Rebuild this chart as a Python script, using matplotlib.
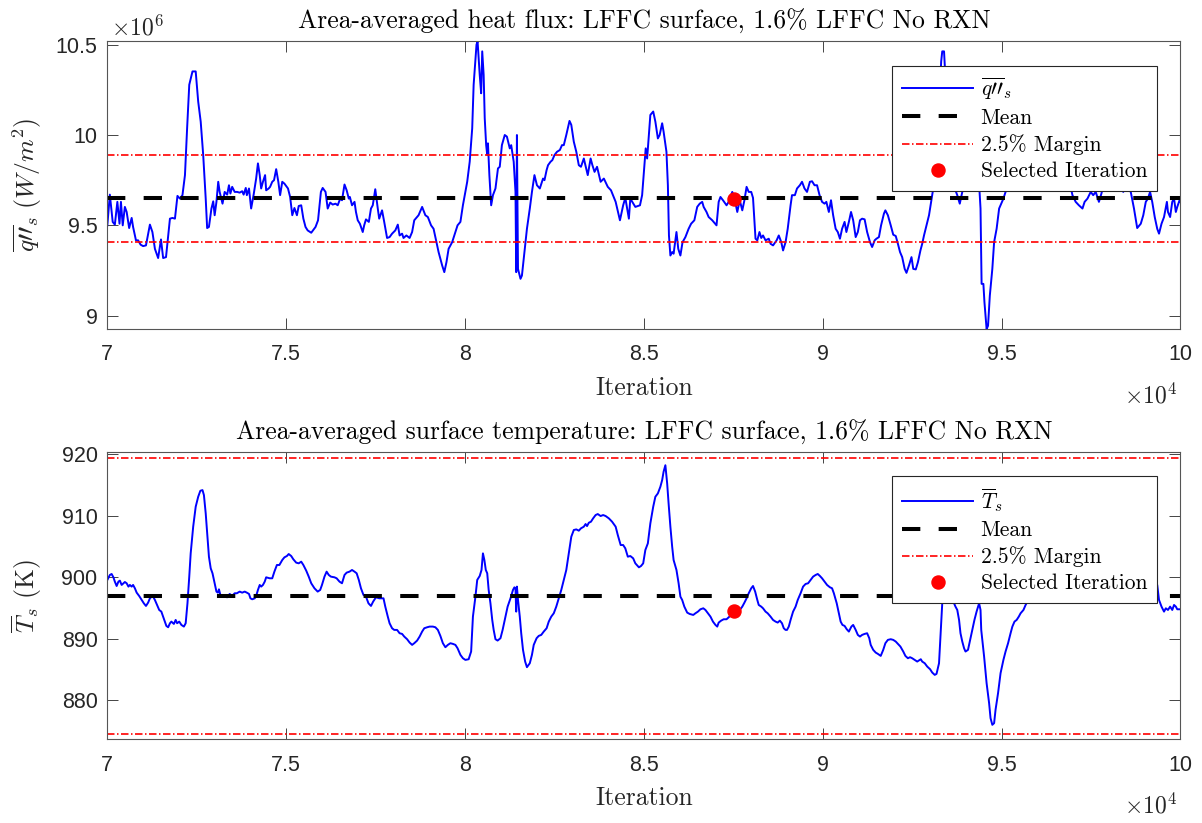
import matplotlib
matplotlib.use('Agg')
import matplotlib.pyplot as plt
from matplotlib.ticker import FuncFormatter, MultipleLocator
import numpy as np

plt.rcParams['mathtext.fontset'] = 'cm'
plt.rcParams['font.family'] = 'Liberation Sans'
SERIF = 'cmr10'
INK = '#262626'

# heat flux trace, iteration in units of 1e4, flux in units of 1e6 W/m^2
q_iter = np.array([
    7.000, 7.007, 7.015, 7.021, 7.028, 7.034, 7.038, 7.043, 7.049, 7.054, 7.061, 7.068,
    7.072, 7.080, 7.086, 7.093, 7.100, 7.108, 7.119, 7.126, 7.133, 7.142, 7.150, 7.156,
    7.164, 7.175, 7.182, 7.189, 7.196, 7.203, 7.210, 7.217, 7.223, 7.229, 7.238, 7.247,
    7.254, 7.261, 7.268, 7.275, 7.279, 7.284, 7.291, 7.296, 7.300, 7.305, 7.310, 7.314,
    7.322, 7.328, 7.335, 7.340, 7.344, 7.349, 7.356, 7.363, 7.370, 7.377, 7.381, 7.387,
    7.390, 7.396, 7.402, 7.409, 7.416, 7.421, 7.426, 7.430, 7.435, 7.441, 7.444, 7.451,
    7.455, 7.461, 7.466, 7.472, 7.478, 7.483, 7.489, 7.495, 7.505, 7.511, 7.517, 7.523,
    7.530, 7.535, 7.542, 7.548, 7.554, 7.560, 7.570, 7.582, 7.589, 7.597, 7.602, 7.610,
    7.616, 7.623, 7.630, 7.638, 7.644, 7.651, 7.656, 7.663, 7.669, 7.675, 7.678, 7.684,
    7.691, 7.695, 7.700, 7.706, 7.714, 7.718, 7.723, 7.731, 7.737, 7.742, 7.749, 7.756,
    7.760, 7.768, 7.774, 7.782, 7.789, 7.796, 7.805, 7.812, 7.817, 7.824, 7.828, 7.836,
    7.845, 7.852, 7.858, 7.870, 7.880, 7.889, 7.896, 7.905, 7.912, 7.920, 7.926, 7.936,
    7.942, 7.948, 7.954, 7.964, 7.970, 7.979, 7.987, 7.994, 8.006, 8.013, 8.020, 8.024,
    8.032, 8.035, 8.041, 8.045, 8.048, 8.052, 8.055, 8.059, 8.062, 8.064, 8.068, 8.073,
    8.078, 8.085, 8.092, 8.097, 8.103, 8.111, 8.117, 8.125, 8.129, 8.136, 8.141, 8.143,
    8.145, 8.148, 8.155, 8.159, 8.166, 8.173, 8.181, 8.187, 8.194, 8.201, 8.209, 8.218,
    8.222, 8.228, 8.232, 8.239, 8.244, 8.250, 8.257, 8.265, 8.271, 8.276, 8.283, 8.292,
    8.297, 8.304, 8.311, 8.318, 8.324, 8.332, 8.343, 8.351, 8.356, 8.362, 8.369, 8.379,
    8.388, 8.399, 8.408, 8.421, 8.433, 8.442, 8.448, 8.458, 8.462, 8.476, 8.489, 8.495,
    8.502, 8.505, 8.509, 8.518, 8.526, 8.532, 8.539, 8.544, 8.551, 8.555, 8.563, 8.567,
    8.570, 8.574, 8.579, 8.583, 8.591, 8.596, 8.602, 8.608, 8.616, 8.625, 8.632, 8.641,
    8.649, 8.656, 8.663, 8.667, 8.675, 8.681, 8.691, 8.703, 8.709, 8.714, 8.721, 8.731,
    8.737, 8.747, 8.753, 8.761, 8.768, 8.775, 8.781, 8.787, 8.793, 8.800, 8.805, 8.812,
    8.817, 8.823, 8.828, 8.833, 8.840, 8.849, 8.854, 8.861, 8.871, 8.877, 8.884, 8.889,
    8.896, 8.902, 8.910, 8.914, 8.922, 8.928, 8.936, 8.942, 8.949, 8.956, 8.964, 8.970,
    8.977, 8.984, 8.991, 8.998, 9.005, 9.010, 9.017, 9.023, 9.029, 9.036, 9.042, 9.048,
    9.054, 9.061, 9.066, 9.073, 9.079, 9.085, 9.092, 9.098, 9.104, 9.110, 9.117, 9.124,
    9.132, 9.138, 9.145, 9.150, 9.157, 9.163, 9.171, 9.175, 9.182, 9.190, 9.197, 9.204,
    9.210, 9.216, 9.222, 9.229, 9.234, 9.241, 9.248, 9.253, 9.260, 9.266, 9.273, 9.278,
    9.283, 9.290, 9.297, 9.303, 9.311, 9.320, 9.328, 9.331, 9.334, 9.339, 9.341, 9.348,
    9.355, 9.362, 9.369, 9.376, 9.383, 9.390, 9.397, 9.409, 9.423, 9.437, 9.441, 9.444,
    9.449, 9.452, 9.458, 9.462, 9.467, 9.474, 9.479, 9.486, 9.493, 9.497, 9.505, 9.511,
    9.518, 9.523, 9.553, 9.590, 9.637, 9.674, 9.691, 9.698, 9.707, 9.716, 9.726, 9.732,
    9.740, 9.749, 9.756, 9.763, 9.772, 9.779, 9.786, 9.810, 9.833, 9.840, 9.847, 9.861,
    9.870, 9.879, 9.889, 9.896, 9.903, 9.909, 9.915, 9.921, 9.928, 9.935, 9.940, 9.947,
    9.954, 9.962, 9.965, 9.971, 9.977, 9.982, 9.987, 9.991, 9.999, 10.000]) * 1e4
q_vals = np.array([
    9.500, 9.670, 9.519, 9.504, 9.630, 9.509, 9.630, 9.500, 9.602, 9.574, 9.485, 9.541,
    9.491, 9.417, 9.417, 9.393, 9.385, 9.389, 9.504, 9.463, 9.370, 9.319, 9.422, 9.319,
    9.324, 9.537, 9.541, 9.537, 9.663, 9.648, 9.667, 9.778, 10.037, 10.278, 10.352, 10.352,
    10.185, 10.074, 9.889, 9.648, 9.485, 9.491, 9.593, 9.633, 9.556, 9.630, 9.741, 9.685,
    9.620, 9.685, 9.670, 9.722, 9.676, 9.713, 9.685, 9.685, 9.681, 9.689, 9.670, 9.707,
    9.667, 9.704, 9.593, 9.670, 9.759, 9.843, 9.778, 9.704, 9.741, 9.778, 9.694, 9.704,
    9.713, 9.741, 9.750, 9.811, 9.741, 9.667, 9.741, 9.731, 9.704, 9.657, 9.556, 9.596,
    9.556, 9.607, 9.611, 9.537, 9.491, 9.472, 9.459, 9.491, 9.528, 9.685, 9.707, 9.685,
    9.593, 9.626, 9.615, 9.620, 9.611, 9.648, 9.639, 9.726, 9.694, 9.648, 9.657, 9.611,
    9.630, 9.574, 9.528, 9.509, 9.463, 9.500, 9.533, 9.519, 9.593, 9.611, 9.700, 9.593,
    9.537, 9.583, 9.519, 9.430, 9.435, 9.454, 9.472, 9.504, 9.444, 9.454, 9.430, 9.444,
    9.430, 9.463, 9.528, 9.556, 9.602, 9.556, 9.546, 9.500, 9.481, 9.407, 9.352, 9.278,
    9.241, 9.296, 9.370, 9.407, 9.444, 9.500, 9.519, 9.611, 9.741, 9.852, 10.037, 10.278,
    10.500, 10.519, 10.333, 10.231, 10.463, 10.333, 10.093, 9.944, 9.889, 9.954, 9.778, 9.611,
    9.667, 9.704, 9.815, 9.824, 9.944, 10.000, 9.991, 9.926, 9.944, 9.852, 9.685, 9.241,
    10.000, 9.259, 9.204, 9.222, 9.352, 9.481, 9.593, 9.685, 9.778, 9.722, 9.704, 9.759,
    9.750, 9.806, 9.833, 9.852, 9.861, 9.889, 9.907, 9.917, 9.944, 9.944, 10.000, 10.078,
    10.056, 9.963, 9.907, 9.833, 9.824, 9.870, 9.778, 9.870, 9.833, 9.796, 9.824, 9.741,
    9.759, 9.713, 9.694, 9.630, 9.528, 9.611, 9.652, 9.537, 9.648, 9.602, 9.611, 9.667,
    9.852, 9.926, 9.870, 10.111, 10.130, 10.074, 9.981, 10.000, 10.065, 10.019, 9.907, 9.722,
    9.444, 9.333, 9.352, 9.343, 9.463, 9.370, 9.333, 9.407, 9.435, 9.481, 9.509, 9.528,
    9.602, 9.620, 9.630, 9.602, 9.574, 9.546, 9.528, 9.500, 9.630, 9.657, 9.639, 9.611,
    9.630, 9.685, 9.652, 9.574, 9.639, 9.583, 9.639, 9.713, 9.685, 9.685, 9.652, 9.426,
    9.417, 9.463, 9.430, 9.444, 9.417, 9.426, 9.398, 9.389, 9.417, 9.444, 9.407, 9.361,
    9.407, 9.481, 9.611, 9.667, 9.667, 9.704, 9.722, 9.741, 9.704, 9.685, 9.741, 9.744,
    9.722, 9.722, 9.667, 9.630, 9.620, 9.630, 9.574, 9.639, 9.556, 9.481, 9.463, 9.426,
    9.481, 9.519, 9.463, 9.519, 9.574, 9.528, 9.435, 9.463, 9.528, 9.537, 9.533, 9.463,
    9.407, 9.380, 9.417, 9.426, 9.435, 9.500, 9.565, 9.583, 9.556, 9.500, 9.448, 9.441,
    9.398, 9.352, 9.324, 9.259, 9.237, 9.278, 9.324, 9.259, 9.256, 9.296, 9.361, 9.398,
    9.444, 9.500, 9.556, 9.630, 9.731, 10.000, 10.278, 10.407, 10.463, 10.463, 10.389, 10.093,
    9.852, 9.731, 9.704, 9.667, 9.620, 9.685, 9.731, 9.815, 9.778, 9.731, 9.593, 9.176,
    9.176, 9.074, 8.926, 8.944, 9.111, 9.259, 9.407, 9.481, 9.593, 9.611, 9.648, 9.685,
    9.704, 9.731, 9.852, 9.889, 9.815, 9.778, 9.731, 9.667, 9.630, 9.611, 9.593, 9.630,
    9.648, 9.685, 9.667, 9.685, 9.630, 9.676, 9.731, 9.815, 9.731, 9.685, 9.713, 9.685,
    9.593, 9.485, 9.509, 9.556, 9.630, 9.648, 9.685, 9.630, 9.546, 9.481, 9.454, 9.509,
    9.546, 9.630, 9.574, 9.546, 9.630, 9.648, 9.574, 9.602, 9.648, 9.630]) * 1e6

# surface temperature trace, iteration in units of 1e4, temperature in K
T_iter = np.array([
    7.000, 7.007, 7.012, 7.017, 7.021, 7.026, 7.031, 7.035, 7.040, 7.045, 7.049, 7.054,
    7.059, 7.063, 7.068, 7.072, 7.077, 7.082, 7.089, 7.096, 7.102, 7.108, 7.114, 7.119,
    7.124, 7.128, 7.133, 7.139, 7.145, 7.151, 7.156, 7.161, 7.165, 7.170, 7.175, 7.179,
    7.186, 7.191, 7.195, 7.201, 7.207, 7.214, 7.219, 7.224, 7.229, 7.233, 7.240, 7.247,
    7.254, 7.260, 7.266, 7.270, 7.275, 7.280, 7.284, 7.289, 7.294, 7.300, 7.305, 7.309,
    7.312, 7.316, 7.322, 7.328, 7.335, 7.342, 7.349, 7.356, 7.362, 7.370, 7.377, 7.384,
    7.390, 7.396, 7.400, 7.405, 7.412, 7.416, 7.421, 7.426, 7.430, 7.435, 7.440, 7.444,
    7.454, 7.461, 7.467, 7.474, 7.481, 7.489, 7.495, 7.502, 7.507, 7.514, 7.520, 7.528,
    7.535, 7.542, 7.548, 7.556, 7.563, 7.570, 7.579, 7.588, 7.595, 7.600, 7.607, 7.613,
    7.619, 7.625, 7.635, 7.641, 7.649, 7.656, 7.663, 7.669, 7.677, 7.684, 7.691, 7.697,
    7.703, 7.709, 7.716, 7.723, 7.730, 7.737, 7.743, 7.751, 7.760, 7.772, 7.777, 7.784,
    7.789, 7.796, 7.802, 7.810, 7.817, 7.824, 7.830, 7.838, 7.845, 7.852, 7.858, 7.866,
    7.873, 7.880, 7.886, 7.894, 7.901, 7.910, 7.917, 7.924, 7.931, 7.938, 7.945, 7.952,
    7.959, 7.966, 7.973, 7.979, 7.987, 7.994, 8.001, 8.010, 8.017, 8.022, 8.029, 8.034,
    8.041, 8.046, 8.050, 8.054, 8.058, 8.062, 8.066, 8.071, 8.076, 8.080, 8.085, 8.091,
    8.099, 8.105, 8.113, 8.119, 8.127, 8.134, 8.138, 8.141, 8.143, 8.145, 8.148, 8.153,
    8.157, 8.162, 8.168, 8.173, 8.181, 8.187, 8.192, 8.200, 8.206, 8.213, 8.220, 8.228,
    8.234, 8.241, 8.248, 8.255, 8.262, 8.269, 8.276, 8.283, 8.290, 8.297, 8.304, 8.311,
    8.318, 8.324, 8.332, 8.337, 8.341, 8.346, 8.352, 8.358, 8.365, 8.371, 8.379, 8.386,
    8.393, 8.402, 8.411, 8.421, 8.427, 8.435, 8.442, 8.448, 8.455, 8.462, 8.470, 8.476,
    8.486, 8.492, 8.498, 8.504, 8.511, 8.518, 8.526, 8.532, 8.539, 8.546, 8.551, 8.555,
    8.560, 8.565, 8.569, 8.574, 8.579, 8.583, 8.591, 8.597, 8.602, 8.607, 8.613, 8.621,
    8.628, 8.638, 8.644, 8.651, 8.658, 8.666, 8.672, 8.679, 8.686, 8.693, 8.700, 8.705,
    8.709, 8.716, 8.723, 8.731, 8.737, 8.744, 8.751, 8.760, 8.768, 8.775, 8.781, 8.787,
    8.793, 8.800, 8.805, 8.811, 8.817, 8.821, 8.828, 8.833, 8.840, 8.846, 8.854, 8.861,
    8.868, 8.874, 8.880, 8.886, 8.891, 8.896, 8.900, 8.905, 8.910, 8.917, 8.924, 8.930,
    8.938, 8.945, 8.952, 8.959, 8.966, 8.973, 8.980, 8.986, 8.992, 8.998, 9.005, 9.012,
    9.020, 9.026, 9.031, 9.039, 9.045, 9.050, 9.055, 9.061, 9.067, 9.073, 9.080, 9.085,
    9.092, 9.098, 9.104, 9.110, 9.117, 9.124, 9.130, 9.134, 9.141, 9.148, 9.154, 9.162,
    9.169, 9.175, 9.182, 9.190, 9.197, 9.204, 9.210, 9.217, 9.225, 9.231, 9.238, 9.244,
    9.250, 9.257, 9.264, 9.274, 9.278, 9.285, 9.292, 9.300, 9.306, 9.313, 9.318, 9.325,
    9.329, 9.334, 9.339, 9.346, 9.353, 9.362, 9.367, 9.371, 9.376, 9.381, 9.385, 9.390,
    9.395, 9.399, 9.406, 9.411, 9.418, 9.424, 9.430, 9.437, 9.441, 9.443, 9.451, 9.458,
    9.465, 9.469, 9.474, 9.479, 9.483, 9.490, 9.497, 9.505, 9.511, 9.518, 9.525, 9.530,
    9.536, 9.542, 9.548, 9.553, 9.561, 9.567, 9.572, 9.576, 9.581, 9.618, 9.665, 9.712,
    9.758, 9.805, 9.852, 9.898, 9.935, 9.940, 9.947, 9.954, 9.959, 9.965, 9.971, 9.977,
    9.982, 9.987, 9.991, 9.999, 10.000]) * 1e4
T_vals = np.array([
    899.57, 900.38, 900.54, 900.00, 899.30, 898.59, 899.30, 899.46, 898.76, 899.03, 899.24, 899.03,
    898.49, 898.76, 898.49, 898.76, 898.22, 897.51, 896.97, 896.32, 895.78, 895.35, 895.89, 896.59,
    896.86, 896.86, 896.32, 895.51, 894.70, 894.43, 893.62, 892.81, 892.11, 891.89, 892.54, 892.81,
    892.43, 893.08, 892.54, 892.81, 892.27, 892.00, 892.54, 895.78, 900.11, 903.89, 908.22, 911.46,
    913.08, 914.05, 914.16, 913.35, 910.38, 906.59, 903.35, 901.46, 900.65, 899.03, 897.68, 897.51,
    898.05, 897.14, 896.97, 896.86, 896.76, 897.30, 896.97, 897.41, 897.41, 897.68, 897.51, 897.68,
    897.51, 897.30, 896.59, 896.43, 896.59, 896.97, 897.95, 898.76, 898.49, 898.76, 899.30, 900.00,
    899.84, 899.84, 900.92, 902.00, 902.00, 902.81, 903.24, 903.46, 903.78, 903.46, 902.92, 902.38,
    902.27, 902.54, 902.00, 901.08, 900.11, 899.03, 898.22, 897.68, 897.95, 898.76, 900.11, 900.92,
    900.38, 900.11, 900.00, 899.84, 899.30, 899.03, 900.38, 900.76, 900.92, 901.19, 900.92, 900.65,
    899.57, 898.22, 897.14, 896.86, 895.78, 895.35, 896.05, 896.76, 896.59, 896.59, 895.24, 893.62,
    892.54, 891.73, 891.46, 891.46, 890.92, 890.81, 890.38, 889.95, 889.41, 889.03, 889.30, 889.73,
    890.38, 891.19, 891.73, 891.89, 892.00, 892.00, 891.89, 891.46, 890.49, 889.30, 888.65, 889.03,
    889.30, 889.19, 889.03, 888.49, 887.41, 886.86, 886.59, 886.70, 887.95, 893.62, 896.86, 899.57,
    900.22, 901.19, 903.89, 902.81, 901.19, 900.65, 897.95, 895.78, 893.08, 891.46, 889.95, 889.73,
    890.11, 891.46, 893.62, 895.24, 896.59, 897.95, 898.38, 898.22, 894.43, 898.49, 896.32, 893.62,
    890.92, 888.22, 886.32, 885.41, 886.05, 887.41, 889.03, 890.11, 890.49, 890.65, 891.19, 891.73,
    892.81, 893.62, 894.16, 895.24, 896.59, 897.95, 899.57, 901.19, 903.89, 906.59, 907.68, 907.78,
    907.57, 907.95, 908.22, 908.65, 908.32, 908.86, 909.03, 909.57, 910.11, 910.27, 909.95, 910.11,
    909.95, 909.57, 909.03, 908.22, 906.86, 905.24, 905.24, 904.70, 903.35, 903.46, 903.08, 902.27,
    901.62, 901.84, 902.27, 904.43, 905.51, 908.76, 911.46, 913.08, 913.62, 914.70, 915.78, 917.14,
    918.20, 915.24, 912.00, 908.22, 904.97, 902.81, 901.19, 899.03, 896.86, 896.32, 895.24, 894.27,
    894.05, 893.89, 894.16, 894.43, 894.81, 894.97, 894.70, 894.16, 893.62, 892.81, 892.27, 892.00,
    892.65, 892.97, 893.19, 893.19, 893.51, 893.89, 894.43, 894.43, 894.70, 895.24, 895.89, 896.59,
    897.41, 898.22, 898.59, 897.68, 896.32, 895.51, 895.24, 894.97, 894.43, 894.16, 893.62, 893.08,
    892.81, 892.65, 892.97, 892.54, 891.73, 891.46, 891.46, 892.00, 893.08, 894.43, 895.24, 896.32,
    897.41, 898.49, 898.92, 899.03, 899.57, 900.11, 900.38, 900.54, 900.22, 899.84, 899.30, 898.76,
    898.38, 898.22, 897.41, 895.78, 894.16, 892.81, 892.27, 892.11, 891.57, 891.19, 892.00, 892.27,
    891.46, 890.65, 890.38, 890.65, 890.81, 890.92, 890.11, 889.03, 888.22, 887.78, 887.57, 887.24,
    888.22, 889.30, 889.84, 889.95, 889.84, 889.57, 889.19, 888.76, 887.95, 887.24, 886.86, 887.03,
    886.86, 886.59, 886.32, 886.70, 886.32, 886.05, 885.51, 885.08, 884.54, 884.16, 884.32, 886.05,
    890.38, 895.78, 897.95, 901.19, 901.70, 897.14, 895.78, 895.24, 894.70, 893.08, 890.92, 889.57,
    888.49, 887.95, 888.22, 889.57, 891.46, 893.08, 894.43, 895.78, 894.70, 891.46, 887.14, 882.81,
    879.57, 877.14, 876.05, 876.32, 878.49, 881.19, 884.43, 886.59, 887.95, 889.30, 890.92, 892.00,
    892.81, 893.08, 893.62, 894.16, 894.70, 895.51, 896.05, 897.14, 898.76, 900.50, 901.50, 900.80,
    902.00, 901.00, 900.50, 899.50, 898.76, 896.32, 895.24, 894.43, 894.97, 894.70, 895.24, 894.70,
    895.51, 895.24, 894.81, 894.81, 894.81])

q_mean = 9.65e6
T_mean = 897.0
margin = 0.025
sel_iter = 87530
sel_q = 9.645e6
sel_T = 894.6

fig = plt.figure(figsize=(12.02, 8.23), dpi=100)
ax1 = fig.add_axes([0.0893, 0.6002, 0.8928, 0.3499])
ax2 = fig.add_axes([0.0893, 0.1017, 0.8928, 0.3495])


def draw(ax, it, vals, mean, sel_v, name, title, ylabel):
    ax.plot(it, vals, color='#0000ff', lw=1.4, label=name)
    ax.axhline(mean, color='k', lw=2.9, ls=(0, (4.55, 4.55)), label='Mean')
    dashdot = (0, (4.5, 1.5, 0.9, 1.5))
    ax.axhline(mean * (1 + margin), color='#ff0000', lw=1.2, ls=dashdot, label='2.5% Margin')
    ax.axhline(mean * (1 - margin), color='#ff0000', lw=1.2, ls=dashdot)
    ax.plot([sel_iter], [sel_v], ls='none', marker='o', ms=9.4, color='#ff0000',
            label='Selected Iteration')

    ax.set_xlim(70000, 100000)
    ax.xaxis.set_major_locator(MultipleLocator(5000))
    ax.xaxis.set_major_formatter(FuncFormatter(lambda v, p: '%g' % (v / 1e4)))
    ax.tick_params(direction='in', length=7.7, width=0.6, colors=INK, labelsize=15.5,
                   top=True, right=True)
    ax.tick_params(axis='x', pad=11)
    ax.tick_params(axis='y', pad=7)
    for s in ax.spines.values():
        s.set_color('#555555')
        s.set_linewidth(0.8)

    ax.text(0.5, 1.042, title, transform=ax.transAxes, ha='center', va='baseline',
            family=SERIF, fontsize=18.5, color='k')
    ax.set_xlabel('Iteration', family=SERIF, fontsize=18.5, color=INK)
    ax.xaxis.set_label_coords(0.5, -0.229)
    ax.xaxis.label.set_va('baseline')
    ax.set_ylabel(ylabel, family=SERIF, fontsize=18.5, color=INK)
    ax.yaxis.set_label_coords(-0.075, 0.5)
    ax.yaxis.label.set_va('center')
    ax.text(0.9968, -0.232, r'$\mathsf{\times 10^{4}}$', transform=ax.transAxes,
            ha='right', va='center', fontsize=17, color=INK)

    leg = ax.legend(loc='upper right', bbox_to_anchor=(0.978, 0.914),
                    prop={'family': SERIF, 'size': 15.5}, fancybox=False,
                    framealpha=1, edgecolor=INK, borderpad=0.45, handlelength=3.3,
                    handletextpad=0.35, labelspacing=0.3, borderaxespad=0)
    leg.get_frame().set_linewidth(0.8)


draw(ax1, q_iter, q_vals, q_mean, sel_q, r'$\overline{q\prime\prime}_s$',
     'Area-averaged heat flux: LFFC surface, 1.6% LFFC No RXN',
     r'$\overline{q\prime\prime}_s\;(W/m^2)$')
ax1.set_ylim(8.926e6, 10.52e6)
ax1.set_yticks([9e6, 9.5e6, 10e6, 10.5e6])
ax1.yaxis.set_major_formatter(FuncFormatter(lambda v, p: '%g' % (v / 1e6)))
ax1.text(0.0034, 1.047, r'$\mathsf{\times 10^{6}}$', transform=ax1.transAxes,
         ha='left', va='center', fontsize=17, color=INK)

draw(ax2, T_iter, T_vals, T_mean, sel_T, r'$\overline{T}_s$',
     'Area-averaged surface temperature: LFFC surface, 1.6% LFFC No RXN',
     r'$\overline{T}_s$ (K)')
ax2.set_ylim(873.7, 920.4)
ax2.set_yticks([880, 890, 900, 910, 920])

fig.savefig('out.png', dpi=100)
